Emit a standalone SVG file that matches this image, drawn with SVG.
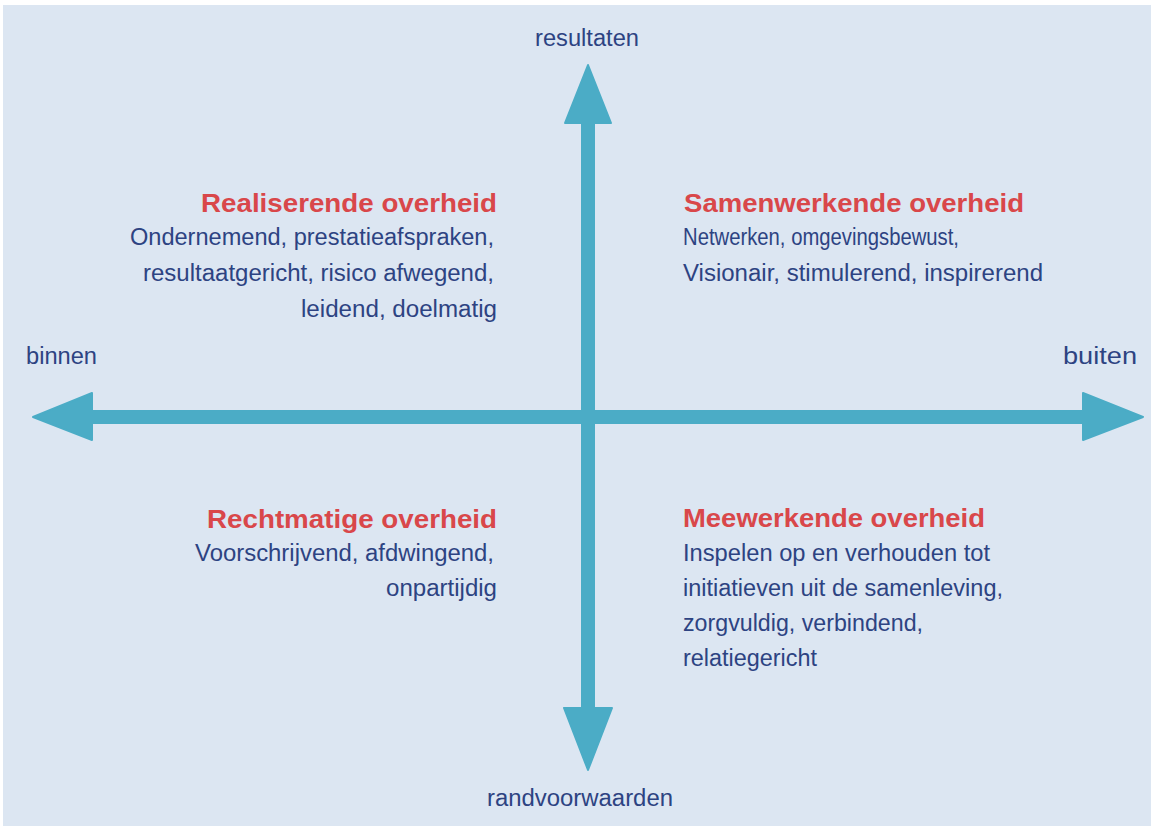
<svg xmlns="http://www.w3.org/2000/svg" width="1156" height="829" viewBox="0 0 1156 829">
<style>
.bg{fill:#dce6f2}
.arrow{fill:#4bacc6;stroke:#4bacc6;stroke-width:2;stroke-linejoin:round}
.axis{font-family:"Liberation Sans",Arial,sans-serif;font-size:23px;fill:#2d4382}
.title{font-family:"Liberation Sans",Arial,sans-serif;font-size:25px;font-weight:bold;fill:#d9474a}
.body{font-family:"Liberation Sans",Arial,sans-serif;font-size:23px;fill:#2d4382}
</style>
<rect width="1156" height="829" fill="#ffffff"/>
<rect class="bg" x="3" y="5" width="1148" height="821"/>
<g id="connectors">
  <polygon class="arrow" points="92,411 1083,411 1083,393 1143,417 1083,440 1083,423 92,423 92,440 33,417 92,393"/>
  <polygon class="arrow" points="582,123 565,123 588,65 611,123 594,123 594,708 612,708 588,770 564,708 582,708"/>
</g>
<g id="axis-labels">
  <text class="axis" x="535" y="46" textLength="104" lengthAdjust="spacingAndGlyphs">resultaten</text>
  <text class="axis" x="26" y="364" textLength="71" lengthAdjust="spacingAndGlyphs">binnen</text>
  <text class="axis" x="1063" y="364" textLength="74" lengthAdjust="spacingAndGlyphs">buiten</text>
  <text class="axis" x="487" y="806" textLength="186" lengthAdjust="spacingAndGlyphs">randvoorwaarden</text>
</g>
<g id="realiserende">
  <text class="title" x="201" y="212" textLength="296" lengthAdjust="spacingAndGlyphs">Realiserende overheid</text>
  <text class="body" x="130" y="245" textLength="364" lengthAdjust="spacingAndGlyphs">Ondernemend, prestatieafspraken,</text>
  <text class="body" x="143" y="281" textLength="351" lengthAdjust="spacingAndGlyphs">resultaatgericht, risico afwegend,</text>
  <text class="body" x="301" y="317" textLength="196" lengthAdjust="spacingAndGlyphs">leidend, doelmatig</text>
</g>
<g id="samenwerkende">
  <text class="title" x="684" y="212" textLength="340" lengthAdjust="spacingAndGlyphs">Samenwerkende overheid</text>
  <text class="body" x="683" y="245" textLength="276" lengthAdjust="spacingAndGlyphs">Netwerken, omgevingsbewust,</text>
  <text class="body" x="683" y="281" textLength="360" lengthAdjust="spacingAndGlyphs">Visionair, stimulerend, inspirerend</text>
</g>
<g id="rechtmatige">
  <text class="title" x="207" y="528" textLength="290" lengthAdjust="spacingAndGlyphs">Rechtmatige overheid</text>
  <text class="body" x="195" y="561" textLength="299" lengthAdjust="spacingAndGlyphs">Voorschrijvend, afdwingend,</text>
  <text class="body" x="386" y="596" textLength="111" lengthAdjust="spacingAndGlyphs">onpartijdig</text>
</g>
<g id="meewerkende">
  <text class="title" x="683" y="527" textLength="302" lengthAdjust="spacingAndGlyphs">Meewerkende overheid</text>
  <text class="body" x="683" y="561" textLength="307" lengthAdjust="spacingAndGlyphs">Inspelen op en verhouden tot</text>
  <text class="body" x="683" y="596" textLength="320" lengthAdjust="spacingAndGlyphs">initiatieven uit de samenleving,</text>
  <text class="body" x="683" y="631" textLength="240" lengthAdjust="spacingAndGlyphs">zorgvuldig, verbindend,</text>
  <text class="body" x="683" y="666" textLength="134" lengthAdjust="spacingAndGlyphs">relatiegericht</text>
</g>
</svg>
